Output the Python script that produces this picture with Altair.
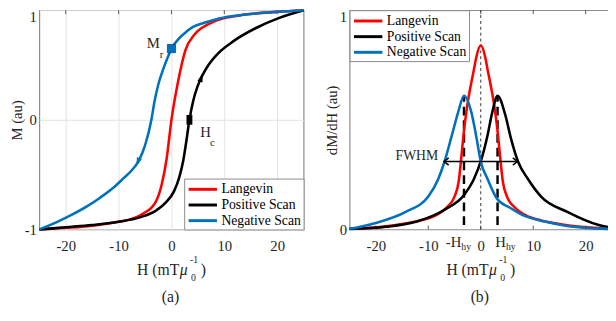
import altair as alt
import pandas as pd

FONT = "Liberation Serif"
TXT = "#262626"
SERIES = ["Langevin", "Positive Scan", "Negative Scan"]
COLORS = ["#FF0000", "#000000", "#0072BD"]
X_TICKS = [-20, -10, 0, 10, 20]

# ---- panel (a): M vs H ----
LANG_H = [-25, -20, -15, -10, -8, -5.5, -3, -1.8, -0.9, 0, 1.3, 2.6, 4.4, 6.9, 8.7, 14, 20, 25]
LANG_M = [-1.0, -0.985, -0.965, -0.93, -0.91, -0.86, -0.75, -0.58, -0.35, 0.0, 0.36, 0.63, 0.78, 0.87, 0.91, 0.96, 0.985, 1.0]
POS_H = [-25, -20, -15, -10, -6, -3, -1, 0.5, 1.5, 2.2, 2.8, 3.4, 4.1, 4.9, 5.8, 7, 8.7, 11.8, 16.1, 20.4, 25]
POS_M = [-1.0, -0.98, -0.96, -0.93, -0.89, -0.83, -0.75, -0.65, -0.52, -0.38, -0.2, 0.0, 0.17, 0.3, 0.4, 0.5, 0.6, 0.72, 0.84, 0.93, 1.0]
NEG_H = [-25, -22, -19, -16, -13.5, -11, -9, -7.5, -6.4, -5.5, -4.8, -4.3, -3.8, -3.2, -2.5, -1.5, -0.7, 0, 1.2, 2.5, 4, 6.2, 9, 14, 20, 25]
NEG_M = [-1.0, -0.94, -0.87, -0.79, -0.71, -0.62, -0.53, -0.46, -0.39, -0.3, -0.2, -0.11, 0.0, 0.17, 0.32, 0.47, 0.57, 0.65, 0.73, 0.79, 0.845, 0.885, 0.925, 0.96, 0.985, 1.0]

MR_H, MR_M = 0.0, 0.65      # remanence marker
HC_H, HC_M = 3.4, 0.0       # coercivity marker
ARROW_H = [5.6, -6.3]
ARROW_M = [0.38, -0.38]
ARROW_ANGLE = [17, 200]
ARROW_COLOR = ["#000000", "#0072BD"]

# ---- panel (b): dM/dH vs H ----
LANG_DH = [-25, -18.5, -15, -11.7, -8.5, -6.5, -5.0, -4.2, -3.7, -3.2, -2.6, -1.3, -0.9, 0, 0.9, 1.3, 2.6, 3.2, 3.7, 4.2, 5.0, 6.5, 8.5, 11.7, 15, 18.5, 25]
LANG_D = [0.003, 0.013, 0.025, 0.04, 0.065, 0.1, 0.15, 0.22, 0.33, 0.45, 0.56, 0.73, 0.78, 0.84, 0.78, 0.73, 0.56, 0.45, 0.33, 0.22, 0.15, 0.1, 0.065, 0.04, 0.025, 0.013, 0.003]
POS_DH = [-25, -18, -12.4, -6.9, -3.1, -1.3, 0, 1.3, 2.2, 3.2, 4.7, 5.7, 7.1, 9.0, 11.5, 16.5, 22.5, 25]
POS_D = [0.002, 0.012, 0.035, 0.09, 0.16, 0.23, 0.31, 0.43, 0.535, 0.61, 0.52, 0.42, 0.31, 0.23, 0.15, 0.08, 0.02, 0.008]
NEG_DH = [-25, -20.4, -14.3, -10, -8.1, -6.9, -5.5, -4.3, -3.2, -1.8, -0.9, 0, 1.3, 3.1, 5.5, 8, 12, 16.7, 25]
NEG_D = [0.002, 0.027, 0.08, 0.15, 0.23, 0.31, 0.43, 0.535, 0.61, 0.535, 0.43, 0.31, 0.23, 0.14, 0.1, 0.065, 0.037, 0.015, 0.002]

PEAK_H = [-3.2, 3.2]
PEAK_D = [0.61, 0.61]
FWHM_H = [-7.0, 7.0]
FWHM_D = 0.31
HHY_H = [-3.7, 4.8]
HHY_TXT = ["-H", "H"]

W, HT = 270, 224
W2 = 268


def series_df(hs, vs, name, k):
    return pd.DataFrame({"H": hs, "v": vs, "s": name, "k": k})


def x_enc(grid):
    return alt.X("H:Q", scale=alt.Scale(domain=[-25, 25], nice=False, zero=False),
                 axis=alt.Axis(values=X_TICKS, title=None, grid=grid, labelExpr="datum.value + ''",
                               labelPadding=9))


def y_enc(domain, values, title, grid):
    return alt.Y("v:Q", scale=alt.Scale(domain=domain, nice=False, zero=False),
                 axis=alt.Axis(values=values, title=title, grid=grid, labelExpr="datum.value + ''",
                               labelPadding=3, titlePadding=0,
                               labelBaseline={"condition": {"test": "datum.value == 1", "value": "top"},
                                              "value": "middle"}))


def legend(orient):
    return alt.Legend(title=None, orient=orient, offset=0, symbolType="M-2,0H2", symbolSize=210,
                      symbolStrokeWidth=3, symbolOffset=8, labelOffset=10, labelFont=FONT,
                      labelFontSize=14, labelColor="#000", strokeColor="#8a8a8a", fillColor="#ffffff",
                      padding=2, rowPadding=0, cornerRadius=0)


def lines(df, xe, ye, orient):
    return alt.Chart(df).mark_line(strokeWidth=2.6, interpolate="monotone").encode(
        x=xe, y=ye,
        color=alt.Color("s:N", scale=alt.Scale(domain=SERIES, range=COLORS), legend=legend(orient)),
        detail="k:N",
    )


def ticks_layer(xe, h):
    df = pd.DataFrame({"H": X_TICKS})
    top = alt.Chart(df).mark_rule(color="#555", strokeWidth=1).encode(x=xe, y=alt.value(0), y2=alt.value(4))
    bot = alt.Chart(df).mark_rule(color="#555", strokeWidth=1).encode(x=xe, y=alt.value(h), y2=alt.value(h - 4))
    return [top, bot]


def label(text, x, y, size, align="left", style="normal", baseline="middle"):
    return alt.Chart(pd.DataFrame({"t": [text]})).mark_text(
        font=FONT, fontSize=size, align=align, baseline=baseline, fontStyle=style, color=TXT
    ).encode(x=alt.value(x), y=alt.value(y), text="t:N")


def x_title(w, h, tag):
    c = w / 2
    return [
        label("H (mT", c + 8, h + 42, 16, "right"),
        label("μ", c + 8.5, h + 42, 16, "left", "italic"),
        label("-1", c + 19, h + 31, 10),
        label("0", c + 20, h + 50, 10),
        label(")", c + 30, h + 42, 16),
        label(tag, c - 1, h + 69, 16, "center"),
    ]


def point_text(h, v, text, size, dx, dy, align):
    return alt.Chart(pd.DataFrame({"H": [h], "v": [v], "t": [text]})).mark_text(
        font=FONT, fontSize=size, align=align, baseline="middle", dx=dx, dy=dy, color=TXT
    )


# ---------- panel (a) ----------
dfa = pd.concat([
    series_df(LANG_H, LANG_M, SERIES[0], 0),
    series_df(POS_H, POS_M, SERIES[1], 1),
    series_df(NEG_H, NEG_M, SERIES[2], 2),
])
xa = x_enc(True)
ya = y_enc([-1, 1], [-1, 0, 1], "M (au)", True)

arrows = alt.Chart(pd.DataFrame({"H": ARROW_H, "v": ARROW_M, "a": ARROW_ANGLE, "c": ARROW_COLOR})).mark_point(
    shape="M0,-1L0.5,0.7L-0.5,0.7Z", filled=True, size=120, opacity=1
).encode(x=xa, y=ya, angle=alt.Angle("a:Q", scale=None), color=alt.Color("c:N", scale=None))

sq_mr = alt.Chart(pd.DataFrame({"H": [MR_H], "v": [MR_M]})).mark_point(
    shape="square", filled=True, size=70, color="#0072BD", opacity=1, stroke="#004f85", strokeWidth=0.8
).encode(x=xa, y=ya)
sq_hc = alt.Chart(pd.DataFrame({"H": [HC_H], "v": [HC_M]})).mark_point(
    shape="M-0.6,-1H0.6V1H-0.6Z", filled=True, size=100, color="#000", opacity=1
).encode(x=xa, y=ya)

ann_a = [
    point_text(MR_H, MR_M, "M", 15, -12, -6, "right").encode(x=xa, y=ya, text="t:N"),
    point_text(MR_H, MR_M, "r", 11, -12, 7, "left").encode(x=xa, y=ya, text="t:N"),
    point_text(HC_H, HC_M, "H", 15, 11, 13, "left").encode(x=xa, y=ya, text="t:N"),
    point_text(HC_H, HC_M, "c", 11, 21, 24, "left").encode(x=xa, y=ya, text="t:N"),
]

panel_a = alt.layer(
    ticks_layer(xa, HT)[0],
    lines(dfa, xa, ya, "bottom-right"),
    arrows, sq_mr, sq_hc, *ann_a, *x_title(W, HT, "(a)"),
).properties(width=W, height=HT)

# ---------- panel (b) ----------
dfb = pd.concat([
    series_df(LANG_DH, LANG_D, SERIES[0], 0),
    series_df(POS_DH, POS_D, SERIES[1], 1),
    series_df(NEG_DH, NEG_D, SERIES[2], 2),
])
xb = x_enc(False)
yb = y_enc([0, 1], [0, 1], "dM/dH (au)", False)

center = alt.Chart(pd.DataFrame({"H": [0], "v": [0], "v2": [1]})).mark_rule(
    color="#333", strokeWidth=1, strokeDash=[3, 3]
).encode(x=xb, y=yb, y2="v2:Q")
peaks = alt.Chart(pd.DataFrame({"H": PEAK_H, "v": [0.02, 0.02], "v2": PEAK_D})).mark_rule(
    color="#000", strokeWidth=2.5, strokeDash=[9, 5]
).encode(x=xb, y=yb, y2="v2:Q")
fw_line = alt.Chart(pd.DataFrame({"H": [FWHM_H[0]], "H2": [FWHM_H[1]], "v": [FWHM_D]})).mark_rule(
    color="#000", strokeWidth=1.6
).encode(x=xb, x2="H2:Q", y=yb)
fw_heads = alt.Chart(pd.DataFrame({"H": FWHM_H, "v": [FWHM_D, FWHM_D], "a": [0, 180]})).mark_point(
    shape="M1,-0.8L0,0L1,0.8", filled=False, size=90, color="#000", strokeWidth=1.6, opacity=1
).encode(x=xb, y=yb, angle=alt.Angle("a:Q", scale=None))
fw_text = point_text(FWHM_H[0], FWHM_D, "FWHM", 14, -6, -6, "right").encode(x=xb, y=yb, text="t:N")

hhy_df = pd.DataFrame({"H": HHY_H, "t": HHY_TXT})
hhy_main = alt.Chart(hhy_df).mark_text(font=FONT, fontSize=15, align="right", baseline="middle", color=TXT).encode(
    x=xb, y=alt.value(HT + 13), text="t:N")
hhy_sub = alt.Chart(hhy_df.assign(t="hy")).mark_text(font=FONT, fontSize=10, align="left", baseline="middle", color=TXT).encode(
    x=xb, y=alt.value(HT + 18), text="t:N")

panel_b = alt.layer(
    *ticks_layer(xb, HT),
    center, peaks,
    lines(dfb, xb, yb, "top-left"),
    fw_line, fw_heads, fw_text, hhy_main, hhy_sub,
    *x_title(W2, HT, "(b)"),
).properties(width=W2, height=HT)

chart = alt.hconcat(panel_a, panel_b, spacing=14).resolve_legend(color="independent").properties(
    padding={"left": 0, "top": -7, "right": -10, "bottom": 0}
).configure_view(stroke="#8a8a8a", strokeWidth=1.2).configure_axis(
    labelFont=FONT, labelFontSize=15, labelColor=TXT, titleFont=FONT, titleFontSize=15,
    titleColor=TXT, titleFontWeight="normal", domain=False, ticks=False, tickSize=0,
    gridColor="#e3e3e3", gridWidth=1
)

chart.save("out.html", embed_options={"renderer": "svg", "actions": False})
